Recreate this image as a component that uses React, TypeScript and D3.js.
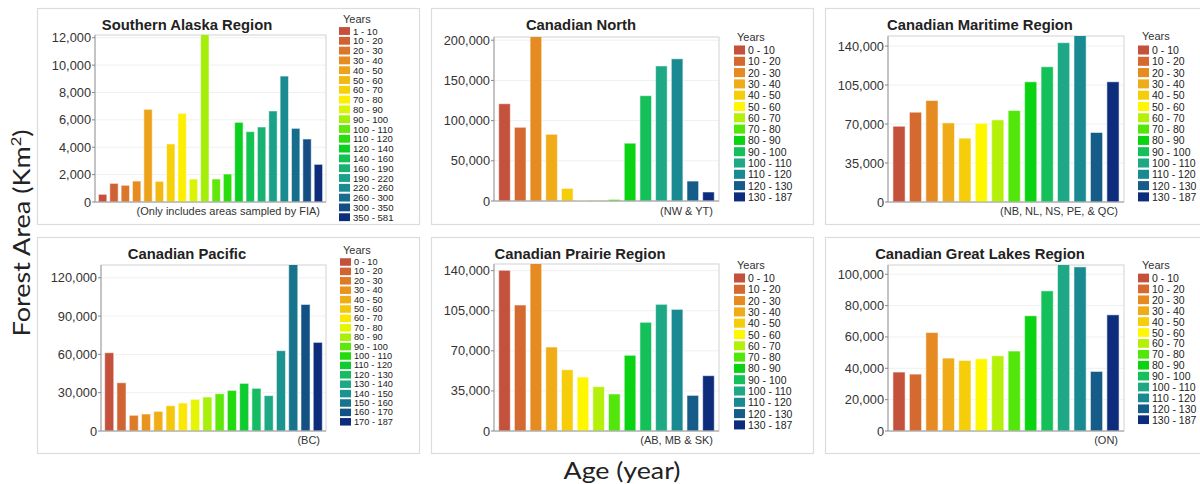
import React from 'react';
import * as d3 from 'd3';

// ---------- DATA ----------
const alaskaCats = ['1 - 10', '10 - 20', '20 - 30', '30 - 40', '40 - 50', '50 - 60', '60 - 70', '70 - 80', '80 - 90', '90 - 100', '100 - 110', '110 - 120', '120 - 140', '140 - 160', '160 - 190', '190 - 220', '220 - 260', '260 - 300', '300 - 350', '350 - 581'];
const alaskaValues = [560, 1360, 1220, 1530, 6770, 1510, 4240, 6475, 1680, 12500, 1680, 2045, 5820, 5140, 5480, 6650, 9200, 5380, 4600, 2750];
const alaskaTicks = [0, 2000, 4000, 6000, 8000, 10000, 12000];

const canadaCats = ['0 - 10', '10 - 20', '20 - 30', '30 - 40', '40 - 50', '50 - 60', '60 - 70', '70 - 80', '80 - 90', '90 - 100', '100 - 110', '110 - 120', '120 - 130', '130 - 187'];

const northValues = [121000, 91700, 210000, 83000, 15700, 800, 800, 2000, 71900, 131000, 168000, 176900, 24800, 11200];
const northTicks = [0, 50000, 100000, 150000, 200000];

const maritimeValues = [68000, 80600, 91100, 71000, 57300, 70700, 73700, 82100, 107900, 121400, 143000, 152000, 62400, 107900];
const maritimeTicks = [0, 35000, 70000, 105000, 140000];

const pacificCats = ['0 - 10', '10 - 20', '20 - 30', '30 - 40', '40 - 50', '50 - 60', '60 - 70', '70 - 80', '80 - 90', '90 - 100', '100 - 110', '110 - 120', '120 - 130', '130 - 140', '140 - 150', '150 - 160', '160 - 170', '170 - 187'];
const pacificValues = [61300, 37800, 12300, 13300, 15400, 19800, 21900, 24800, 26600, 29200, 31800, 37300, 33400, 27700, 62900, 135000, 99100, 69400];
const pacificTicks = [0, 30000, 60000, 90000, 120000];

const prairieValues = [140300, 110000, 150000, 73300, 53500, 47100, 38700, 32300, 66100, 94900, 110600, 106200, 31100, 48300];
const prairieTicks = [0, 35000, 70000, 105000, 140000];

const greatLakesValues = [37600, 36300, 62800, 46500, 45000, 46100, 48000, 51000, 73500, 89400, 110000, 104700, 38000, 74100];
const greatLakesTicks = [0, 20000, 40000, 60000, 80000, 100000];

const titles = ['Southern Alaska Region', 'Canadian North', 'Canadian Maritime Region', 'Canadian Pacific', 'Canadian Prairie Region', 'Canadian Great Lakes Region'];
const notes = ['(Only includes areas sampled by FIA)', '(NW & YT)', '(NB, NL, NS, PE, & QC)', '(BC)', '(AB, MB &  SK)', '(ON)'];
const yMaxes = [12200, 204000, 149000, 130000, 145800, 105900];

const paletteStops = ['#c4513c', '#d46a30', '#e68a22', '#f0ab18', '#f5cd0a', '#fff700', '#b4f00a', '#52e60a', '#0ad412', '#14c05a', '#1ea886', '#1a8a92', '#155c88', '#0e2c7c'];

// ---------- LAYOUT ----------
const layouts = [
  { frame: [37, 8, 382, 216], plot: [95, 35, 326, 202], titleX: 187, titleY: 30, noteY: 215, legX: 339, legY0: 31, legStep: 9.8, yearsX: 343, yearsY: 19 },
  { frame: [431, 8, 382, 216], plot: [494, 37, 719, 201], titleX: 581, titleY: 30, noteY: 215, legX: 734, legY0: 50, legStep: 11.3, yearsX: 737, yearsY: 37 },
  { frame: [825, 8, 390, 216], plot: [888, 36, 1124, 202], titleX: 980, titleY: 30, noteY: 215, legX: 1138, legY0: 50, legStep: 11.3, yearsX: 1142, yearsY: 36 },
  { frame: [37, 237, 382, 216], plot: [101, 265, 326, 431], titleX: 187, titleY: 259, noteY: 444, legX: 340, legY0: 262, legStep: 9.4, yearsX: 343, yearsY: 250 },
  { frame: [431, 237, 382, 216], plot: [494, 264, 719, 431], titleX: 580, titleY: 259, noteY: 444, legX: 734, legY0: 278, legStep: 11.3, yearsX: 737, yearsY: 265 },
  { frame: [825, 237, 390, 216], plot: [888, 265, 1124, 431], titleX: 980, titleY: 259, noteY: 444, legX: 1138, legY0: 278, legStep: 10.9, yearsX: 1142, yearsY: 265 },
];

const panelData = [
  { cats: alaskaCats, values: alaskaValues, ticks: alaskaTicks },
  { cats: canadaCats, values: northValues, ticks: northTicks },
  { cats: canadaCats, values: maritimeValues, ticks: maritimeTicks },
  { cats: pacificCats, values: pacificValues, ticks: pacificTicks },
  { cats: canadaCats, values: prairieValues, ticks: prairieTicks },
  { cats: canadaCats, values: greatLakesValues, ticks: greatLakesTicks },
];

const paletteInterp = d3.piecewise(d3.interpolateRgb, paletteStops);
const fmt = d3.format(',');
const FONT = 'Liberation Sans, Arial, sans-serif';

function Panel({ idx }: { idx: number }) {
  const L = layouts[idx];
  const D = panelData[idx];
  const [pl, pt, pr, pb] = L.plot;
  const x = d3.scaleBand<number>().domain(D.cats.map((_, i) => i)).range([pl, pr]).paddingInner(0.26).paddingOuter(0.3);
  const y = d3.scaleLinear().domain([0, yMaxes[idx]]).range([pb, pt]);
  const n = D.cats.length;
  const color = (i: number) => paletteInterp(n === 1 ? 0 : i / (n - 1));
  const clipId = `clip${idx}`;
  const [fx, fy, fw, fh] = L.frame;
  const legFont = Math.min(10.5, L.legStep * 0.98);
  return (
    <g>
      <rect x={fx + 0.5} y={fy + 0.5} width={fw} height={fh} fill="#fff" stroke="#dcdcdc" strokeWidth={1.2} />
      <defs>
        <clipPath id={clipId}>
          <rect x={pl} y={pt} width={pr - pl} height={pb - pt} />
        </clipPath>
      </defs>
      {D.ticks.map((t) => (
        <line key={t} x1={pl} x2={pr} y1={y(t)} y2={y(t)} stroke="#f0f0f0" strokeWidth={1} />
      ))}
      <rect x={pl} y={pt} width={pr - pl} height={pb - pt} fill="none" stroke="#d2d2d2" strokeWidth={1} />
      <g clipPath={`url(#${clipId})`}>
        {D.values.map((v, i) => (
          <rect key={i} x={x(i)} y={y(v)} width={x.bandwidth()} height={Math.max(0, pb - y(v))} fill={color(i)} stroke="#ffffff" strokeOpacity={0.55} strokeWidth={1} />
        ))}
      </g>
      <line x1={pl} x2={pl} y1={pt} y2={pb} stroke="#a0a0a0" strokeWidth={1} />
      <line x1={pl} x2={pr} y1={pb} y2={pb} stroke="#a0a0a0" strokeWidth={1} />
      {D.ticks.map((t) => (
        <g key={t}>
          <line x1={pl - 3} x2={pl} y1={y(t)} y2={y(t)} stroke="#888" strokeWidth={1} />
          <text x={pl - 4} y={y(t)} textAnchor="end" dominantBaseline="central" fontSize={12.8} fill="#333" fontFamily={FONT}>{fmt(t)}</text>
        </g>
      ))}
      <text x={L.titleX} y={L.titleY} textAnchor="middle" fontSize={14.8} fontWeight="bold" fill="#222" fontFamily={FONT}>{titles[idx]}</text>
      <text x={pr - 6} y={L.noteY} textAnchor="end" fontSize={11} fill="#333" fontFamily={FONT}>{notes[idx]}</text>
      <text x={L.yearsX} y={L.yearsY} dominantBaseline="central" fontSize={11} fill="#333" fontFamily={FONT}>Years</text>
      {D.cats.map((c, i) => {
        const cy = L.legY0 + i * L.legStep;
        const h = L.legStep * 0.8;
        return (
          <g key={c}>
            <rect x={L.legX} y={cy - h / 2} width={11} height={h} fill={color(i)} />
            <text x={L.legX + 14} y={cy} dominantBaseline="central" fontSize={legFont} fill="#222" fontFamily={FONT}>{c}</text>
          </g>
        );
      })}
    </g>
  );
}

export default function App() {
  return (
    <svg width={1200} height={484} style={{ position: 'absolute', left: 0, top: 0, display: 'block', background: '#fff' }}>
      <rect x={0} y={0} width={1200} height={484} fill="#fff" />
      {layouts.map((_, i) => (
        <Panel key={i} idx={i} />
      ))}
      <text transform="translate(30,233) rotate(-90)" textAnchor="middle" fontSize={23} fontFamily="Lato, 'Open Sans', sans-serif" fill="#222" textLength={207} lengthAdjust="spacingAndGlyphs">
        Forest Area (Km<tspan fontSize={14} dy={-9}>2</tspan><tspan dy={9}>)</tspan>
      </text>
      <text x={622} y={479} textAnchor="middle" fontSize={23} fontFamily="Lato, 'Open Sans', sans-serif" fill="#222" textLength={117} lengthAdjust="spacingAndGlyphs">Age (year)</text>
    </svg>
  );
}
